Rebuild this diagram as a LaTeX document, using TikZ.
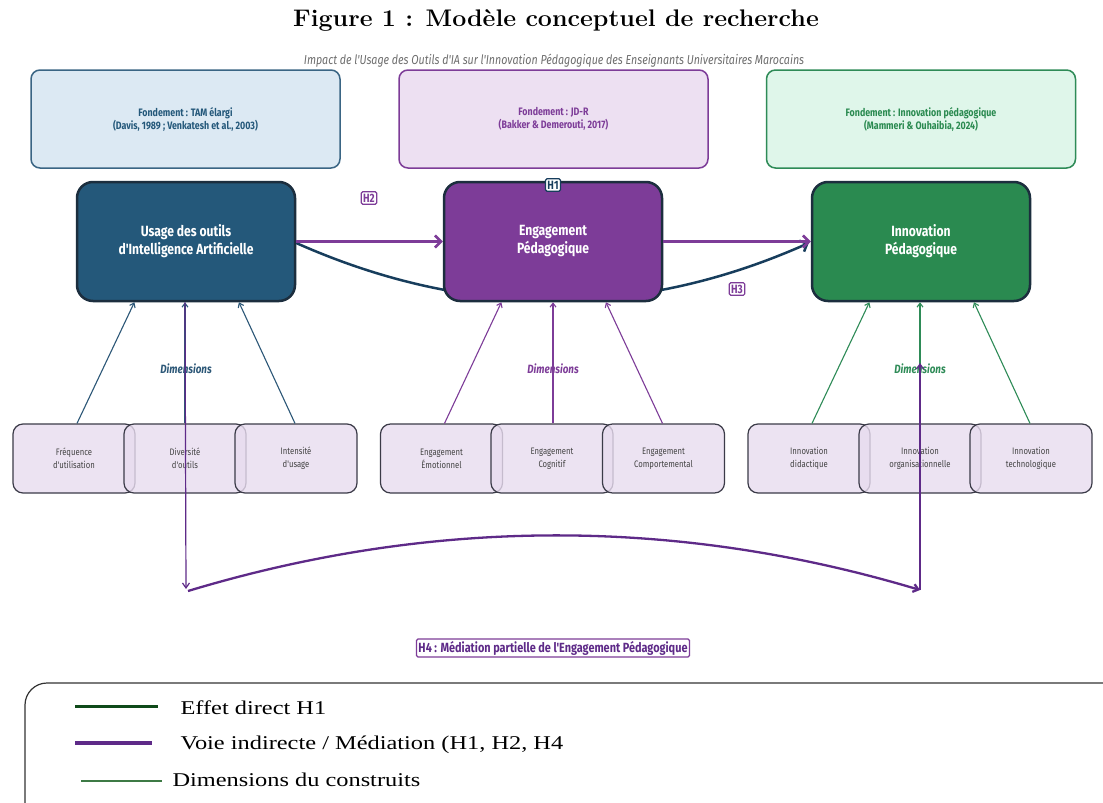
\documentclass[tikz,border=0pt]{standalone}
\usepackage{fontspec}
\usetikzlibrary{arrows.meta,calc}
\newfontfamily\cf[FakeStretch=0.82]{Fira Sans}
\newfontfamily\tnr[FakeStretch=1.25]{Liberation Serif}
\newfontfamily\titlef[FakeStretch=1.04]{Latin Modern Roman}
\definecolor{ublue}{HTML}{24587A}
\definecolor{udark}{HTML}{1C2E3E}
\definecolor{epurple}{HTML}{7D3C98}
\definecolor{igreen}{HTML}{2A8A50}
\definecolor{fblue}{HTML}{DCE9F3}
\definecolor{fblueb}{HTML}{3A6584}
\definecolor{fpurple}{HTML}{EDE0F2}
\definecolor{fgreen}{HTML}{DFF6EA}
\definecolor{dfill}{HTML}{E8DCEF}
\definecolor{dborder}{HTML}{3B3B48}
\definecolor{curveblue}{HTML}{173D5C}
\definecolor{medpurple}{HTML}{5E2A88}
\definecolor{dimblue}{HTML}{2C5777}
\definecolor{dimgreen}{HTML}{2E8B57}
\definecolor{leggreen}{HTML}{0F4A1A}
\definecolor{legthin}{HTML}{3D7A45}
\definecolor{subgray}{HTML}{6E6E6E}
\definecolor{dtext}{HTML}{444444}
\begin{document}
\begin{tikzpicture}[x=1pt,y=-1pt,
  fbox/.style={rounded corners=9pt, line width=1.5pt, minimum width=309pt, minimum height=98pt, align=center, font=\cf\bfseries\fontsize{10.8}{13}\selectfont},
  mbox/.style={rounded corners=16pt, line width=2.5pt, draw=udark, minimum width=218pt, minimum height=119pt, align=center, text=white, font=\cf\bfseries\fontsize{14.8}{18}\selectfont},
  dbox/.style={rounded corners=10pt, line width=1.2pt, draw=dborder, fill=dfill, fill opacity=0.8, text opacity=1, minimum width=122pt, minimum height=69pt, align=center, text=dtext, font=\cf\fontsize{9.4}{13}\selectfont},
  hlab/.style={rounded corners=1.5pt, line width=1.2pt, fill=white, inner sep=2pt, font=\cf\bfseries\fontsize{12}{13}\selectfont},
  dimlab/.style={font=\cf\bfseries\itshape\fontsize{12}{13}\selectfont},
  bigarr/.style={line width=2.5pt, -{Straight Barb[length=6pt,width=12pt]}},
  dimarr/.style={line width=1.1pt, -{Straight Barb[length=4pt,width=6pt]}},
  medthin/.style={line width=1.2pt, draw=medpurple, -{Straight Barb[length=5pt,width=7pt]}},
  legtext/.style={anchor=west, font=\tnr\fontsize{19.5}{22}\selectfont}
]
\clip (0,0) rectangle (1103,803);
\fill[white] (0,0) rectangle (1103,803);
\useasboundingbox (0,0) rectangle (1103,803);

% title and subtitle
\node (title) at (556,20) {\titlef\fontsize{24}{26}\selectfont\bfseries Figure 1 : Modèle conceptuel de recherche};
\node[text=subgray, font=\cf\itshape\fontsize{13}{14}\selectfont] (subtitle) at (554,61) {Impact de l'Usage des Outils d'IA sur l'Innovation Pédagogique des Enseignants Universitaires Marocains};

% foundation boxes
\node[fbox, fill=fblue, draw=fblueb, text=ublue] (f1) at (185.5,119) {Fondement : TAM élargi\\(Davis, 1989 ; Venkatesh et al., 2003)};
\node[fbox, fill=fpurple, draw=epurple, text=epurple] (f2) at (553.5,119) {Fondement : JD-R\\(Bakker \& Demerouti, 2017)};
\node[fbox, fill=fgreen, draw=dimgreen, text=igreen] (f3) at (921,119) {Fondement : Innovation pédagogique\\(Mammeri \& Ouhaibia, 2024)};

% main constructs
\node[mbox, fill=ublue] (usage) at (186,241.5) {Usage des outils\\d'Intelligence Artificielle};
\node[mbox, fill=igreen] (innov) at (921,241.5) {Innovation\\Pédagogique};
\coordinate (cs) at ($(usage.east)+(0,1.5)$);
\coordinate (ce) at ($(innov.west)+(-2,1.5)$);
\coordinate (qc) at ($(cs)!0.5!(ce)+(0,114)$);
\draw[line width=2.5pt, draw=curveblue, -{Straight Barb[length=6pt,width=12pt]}] (cs) .. controls ($(cs)!0.6667!(qc)$) and ($(ce)!0.6667!(qc)$) .. (ce);
\node[mbox, fill=epurple] (eng) at (553,241.5) {Engagement\\Pédagogique};

\draw[bigarr, draw=epurple] (usage.east) -- (eng.west);
\draw[bigarr, draw=epurple] (eng.east) -- (innov.west);

% hypothesis labels
\node[hlab, draw=epurple, text=epurple] (h2) at (369,198) {H2};
\node[hlab, draw=curveblue, text=curveblue] (h1) at (553,185) {H1};
\node[hlab, draw=epurple, text=epurple] (h3) at (737,289) {H3};

% dimension boxes
\node[dbox] (d11) at (74,458.5) {Fréquence\\d'utilisation};
\node[dbox] (d12) at (185,458.5) {Diversité\\d'outils};
\node[dbox] (d13) at (296,458.5) {Intensité\\d'usage};
\node[dbox] (d21) at (441.5,458.5) {Engagement\\Émotionnel};
\node[dbox] (d22) at (552,458.5) {Engagement\\Cognitif};
\node[dbox] (d23) at (663.5,458.5) {Engagement\\Comportemental};
\node[dbox] (d31) at (809,458.5) {Innovation\\didactique};
\node[dbox] (d32) at (920,458.5) {Innovation\\organisationnelle};
\node[dbox] (d33) at (1031,458.5) {Innovation\\technologique};

% dimension arrows
\draw[dimarr, draw=dimblue] ($(d11.north)+(3,0)$) -- ($(usage.south west)!0.266!(usage.south east)$);
\draw[dimarr, draw=dimblue] (d12.north) -- (d12.north |- usage.south);
\draw[dimarr, draw=dimblue] ($(d13.north)+(-1,0)$) -- ($(usage.south west)!0.74!(usage.south east)$);
\draw[dimarr, draw=epurple] ($(d21.north)+(3,0)$) -- ($(eng.south west)!0.266!(eng.south east)$);
\draw[dimarr, draw=epurple] ($(d22.north)+(1,0)$) -- ($(d22.north |- eng.south)+(1,0)$);
\draw[dimarr, draw=epurple] ($(d23.north)+(-1,0)$) -- ($(eng.south west)!0.74!(eng.south east)$);
\draw[dimarr, draw=dimgreen] ($(d31.north)+(3,0)$) -- ($(innov.south west)!0.266!(innov.south east)$);
\draw[dimarr, draw=dimgreen] (d32.north) -- (d32.north |- innov.south);
\draw[dimarr, draw=dimgreen] ($(d33.north)+(-1,0)$) -- ($(innov.south west)!0.74!(innov.south east)$);

\node[dimlab, text=dimblue] (dim1) at (186,369) {Dimensions};
\node[dimlab, text=epurple] (dim2) at (553,369) {Dimensions};
\node[dimlab, text=dimgreen] (dim3) at (920,369) {Dimensions};

% mediation path H4
\coordinate (a1) at (186,589);
\coordinate (a2) at (920,590);
\coordinate (a3) at (920,363);
\coordinate (a1s) at ($(a1)+(2,2)$);
\coordinate (hq) at ($(a1s)!0.5!(a2)+(0,-110)$);
\draw[medthin] (d12.north |- usage.south) -- (a1);
\draw[line width=2.3pt, draw=medpurple, -{Straight Barb[length=5pt,width=8pt]}] (a1s) .. controls ($(a1s)!0.6667!(hq)$) and ($(a2)!0.6667!(hq)$) .. (a2);
\draw[medthin] (a2) -- (a3);
\node[hlab, draw=epurple, text=medpurple, font=\cf\bfseries\fontsize{13.3}{15}\selectfont] (h4) at (553,648) {H4 : Médiation partielle de l'Engagement Pédagogique};

% legend
\draw[line width=1.2pt, draw=black!80, rounded corners=22pt] (25,683) rectangle (1140,840);
\coordinate (l1a) at (75,706);  \coordinate (l1b) at (158,706);
\coordinate (l2a) at (75,743);  \coordinate (l2b) at (152,743);
\coordinate (l3a) at (81,781);  \coordinate (l3b) at (162,781);
\draw[line width=3pt, draw=leggreen] (l1a) -- (l1b);
\draw[line width=3.5pt, draw=medpurple] (l2a) -- (l2b);
\draw[line width=1.5pt, draw=legthin] (l3a) -- (l3b);
\node[legtext] (t1) at (177,708) {Effet direct H1};
\node[legtext] (t2) at (177,745) {Voie indirecte / Médiation (H1, H2, H4};
\node[legtext] (t3) at (169,780) {Dimensions du construits};
\end{tikzpicture}
\end{document}
